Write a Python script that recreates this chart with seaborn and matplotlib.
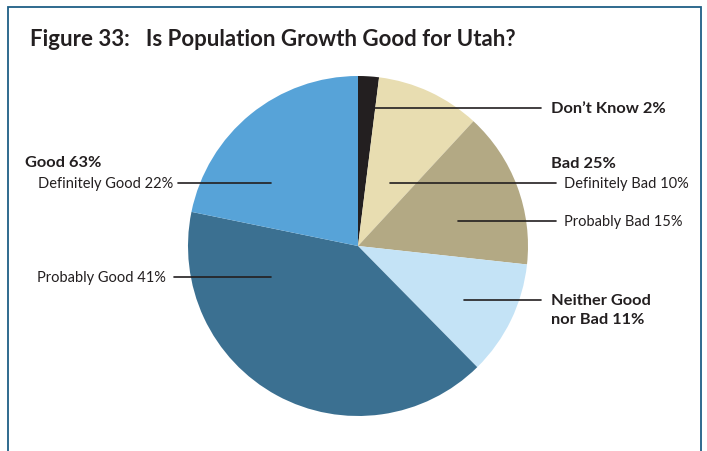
import matplotlib
matplotlib.use("Agg")
import matplotlib.pyplot as plt
import seaborn as sns

# Survey responses, clockwise from the top of the pie
categories = ["Don't Know", "Definitely Bad", "Probably Bad",
              "Neither Good nor Bad", "Probably Good", "Definitely Good"]
shares = [2, 10, 15, 11, 41, 22]
slice_colors = ["#231f20", "#e8ddb1", "#b3a984", "#c4e3f6", "#3b7091", "#57a3d8"]

title = "Figure 33:   Is Population Growth Good for Utah?"
good_total = "Good 63%"
bad_total = "Bad 25%"

sns.set_theme(style="white")
plt.rcParams["font.family"] = ["Lato", "DejaVu Sans"]

W, H = 707, 452
fig = plt.figure(figsize=(W / 100, H / 100), dpi=100)
ax = fig.add_axes([0, 0, 1, 1])


def Y(py):
    return H - py


palette = sns.color_palette(slice_colors)
ax.pie(shares, colors=palette, startangle=90, counterclock=False,
       center=(358, Y(247)), radius=170, frame=True,
       wedgeprops=dict(linewidth=0))
ax.set_xlim(0, W)
ax.set_ylim(0, H)
ax.axis("off")

# frame around the figure panel
frame_c = "#1f5f86"
ax.plot([8, 8, 701, 701], [0, Y(8), Y(8), 0], color=frame_c, lw=1.3,
        solid_joinstyle="miter", clip_on=False)

ax.text(30, Y(40), title, fontsize=16, fontweight="bold", color="#231f20",
        va="center", ha="left")

txt = "#231f20"
bold_fs = 11.8
reg_fs = 10.5
line_kw = dict(color="#231f20", lw=1.2)

# right side labels
ax.plot([375, 541], [Y(109), Y(109)], **line_kw)
ax.text(551, Y(109), f"Don’t Know {shares[0]}%", fontsize=bold_fs, fontweight="bold",
        color=txt, va="center")

ax.text(551, Y(164), bad_total, fontsize=bold_fs, fontweight="bold", color=txt, va="center")
ax.plot([390, 556], [Y(184), Y(184)], **line_kw)
ax.text(564, Y(184), f"Definitely Bad {shares[1]}%", fontsize=reg_fs, color=txt, va="center")
ax.plot([458, 556], [Y(222), Y(222)], **line_kw)
ax.text(564, Y(222), f"Probably Bad {shares[2]}%", fontsize=reg_fs, color=txt, va="center")

ax.plot([464, 541], [Y(301), Y(301)], **line_kw)
ax.text(551, Y(301), "Neither Good", fontsize=bold_fs, fontweight="bold", color=txt, va="center")
ax.text(551, Y(320), f"nor Bad {shares[3]}%", fontsize=bold_fs, fontweight="bold", color=txt, va="center")

# left side labels
ax.text(25, Y(163), good_total, fontsize=bold_fs, fontweight="bold", color=txt, va="center")
ax.text(173, Y(184), f"Definitely Good {shares[5]}%", fontsize=reg_fs, color=txt,
        va="center", ha="right")
ax.plot([178, 271], [Y(184), Y(184)], **line_kw)
ax.text(166, Y(278), f"Probably Good {shares[4]}%", fontsize=reg_fs, color=txt,
        va="center", ha="right")
ax.plot([174, 271], [Y(278), Y(278)], **line_kw)

fig.savefig("out.png", dpi=100)
